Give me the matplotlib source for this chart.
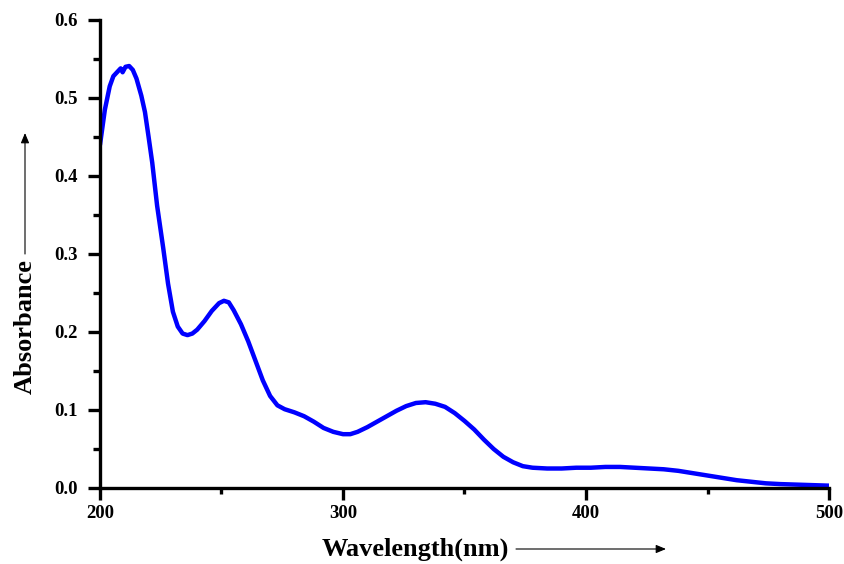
import matplotlib
matplotlib.use("Agg")
import matplotlib.pyplot as plt
from matplotlib.ticker import MultipleLocator

wavelength = [200, 202, 204, 205.5, 207, 208.5, 209.3, 210.5, 212, 213.5, 215, 217, 218.5,
              220, 221.5, 223.5, 226, 228, 230, 232, 234, 236, 238, 240, 243, 246, 249,
              251, 253, 255, 258, 261, 264, 267, 270, 273, 276, 280, 284, 288, 292, 296,
              300, 303, 306, 310, 314, 318, 322, 326, 330, 334, 338, 342, 346, 350, 354,
              358, 362, 366, 370, 374, 378, 384, 390, 396, 402, 408, 414, 420, 426, 432,
              438, 444, 450, 456, 462, 468, 474, 480, 490, 500]
absorbance = [0.440, 0.485, 0.515, 0.528, 0.533, 0.538, 0.533, 0.540, 0.541, 0.536, 0.525,
              0.503, 0.482, 0.450, 0.417, 0.362, 0.308, 0.262, 0.226, 0.207, 0.198, 0.196,
              0.198, 0.203, 0.214, 0.227, 0.237, 0.240, 0.238, 0.228, 0.210, 0.188, 0.163,
              0.138, 0.118, 0.106, 0.101, 0.097, 0.092, 0.085, 0.077, 0.072, 0.069, 0.069,
              0.072, 0.078, 0.085, 0.092, 0.099, 0.105, 0.109, 0.110, 0.108, 0.104, 0.096,
              0.086, 0.075, 0.062, 0.050, 0.040, 0.033, 0.028, 0.026, 0.025, 0.025, 0.026,
              0.026, 0.027, 0.027, 0.026, 0.025, 0.024, 0.022, 0.019, 0.016, 0.013, 0.010,
              0.008, 0.006, 0.005, 0.004, 0.003]

x_ticks = [200, 300, 400, 500]
y_ticks = [0.0, 0.1, 0.2, 0.3, 0.4, 0.5, 0.6]
x_label = "Wavelength(nm)"
y_label = "Absorbance"

plt.rcParams['font.family'] = ['Liberation Serif', 'DejaVu Serif']
plt.rcParams['font.weight'] = 'bold'

fig = plt.figure(figsize=(8.44, 5.64), dpi=100)
ax = fig.add_axes([100/844, 1-488/564, 729/844, 468/564])

ax.plot(wavelength, absorbance, color='#0000FF', linewidth=3.2, solid_capstyle='round')

ax.set_xlim(200, 500)
ax.set_ylim(0, 0.6)
ax.set_xticks(x_ticks)
ax.set_xticklabels([str(t) for t in x_ticks])
ax.set_yticks(y_ticks)
ax.set_yticklabels([f"{t:.1f}" for t in y_ticks])
ax.xaxis.set_minor_locator(MultipleLocator(50))
ax.yaxis.set_minor_locator(MultipleLocator(0.05))

for s in ['top', 'right']:
    ax.spines[s].set_visible(False)
for s in ['left', 'bottom']:
    ax.spines[s].set_linewidth(2.4)
    ax.spines[s].set_color('black')

ax.tick_params(axis='y', which='major', direction='out', length=8.5, width=2.4,
               labelsize=13.5, pad=7.5)
ax.tick_params(axis='x', which='major', direction='out', length=8.5, width=2.4,
               labelsize=13.5, pad=4)
ax.tick_params(axis='y', which='minor', direction='out', length=5, width=2.4)
ax.tick_params(axis='x', which='minor', direction='out', length=4, width=2.4)
for lab in ax.get_xticklabels() + ax.get_yticklabels():
    lab.set_fontweight('bold')

# x label with arrow
fig.text(415/844, 1-549/564, x_label, ha='center', va='center', fontsize=19,
         fontweight='bold')
fig.add_artist(matplotlib.patches.FancyArrowPatch(
    (516/844, 1-549/564), (666/844, 1-549/564), transform=fig.transFigure,
    arrowstyle='-|>,head_length=6,head_width=2.5', color='black', linewidth=0.8,
    shrinkA=0, shrinkB=0))

# y label with arrow
fig.text(25/844, 1-327/564, y_label, ha='center', va='center', fontsize=19,
         fontweight='bold', rotation=90)
fig.add_artist(matplotlib.patches.FancyArrowPatch(
    (25/844, 1-254/564), (25/844, 1-133/564), transform=fig.transFigure,
    arrowstyle='-|>,head_length=6,head_width=2.5', color='black', linewidth=0.8,
    shrinkA=0, shrinkB=0))

fig.savefig("out.png", dpi=100)
